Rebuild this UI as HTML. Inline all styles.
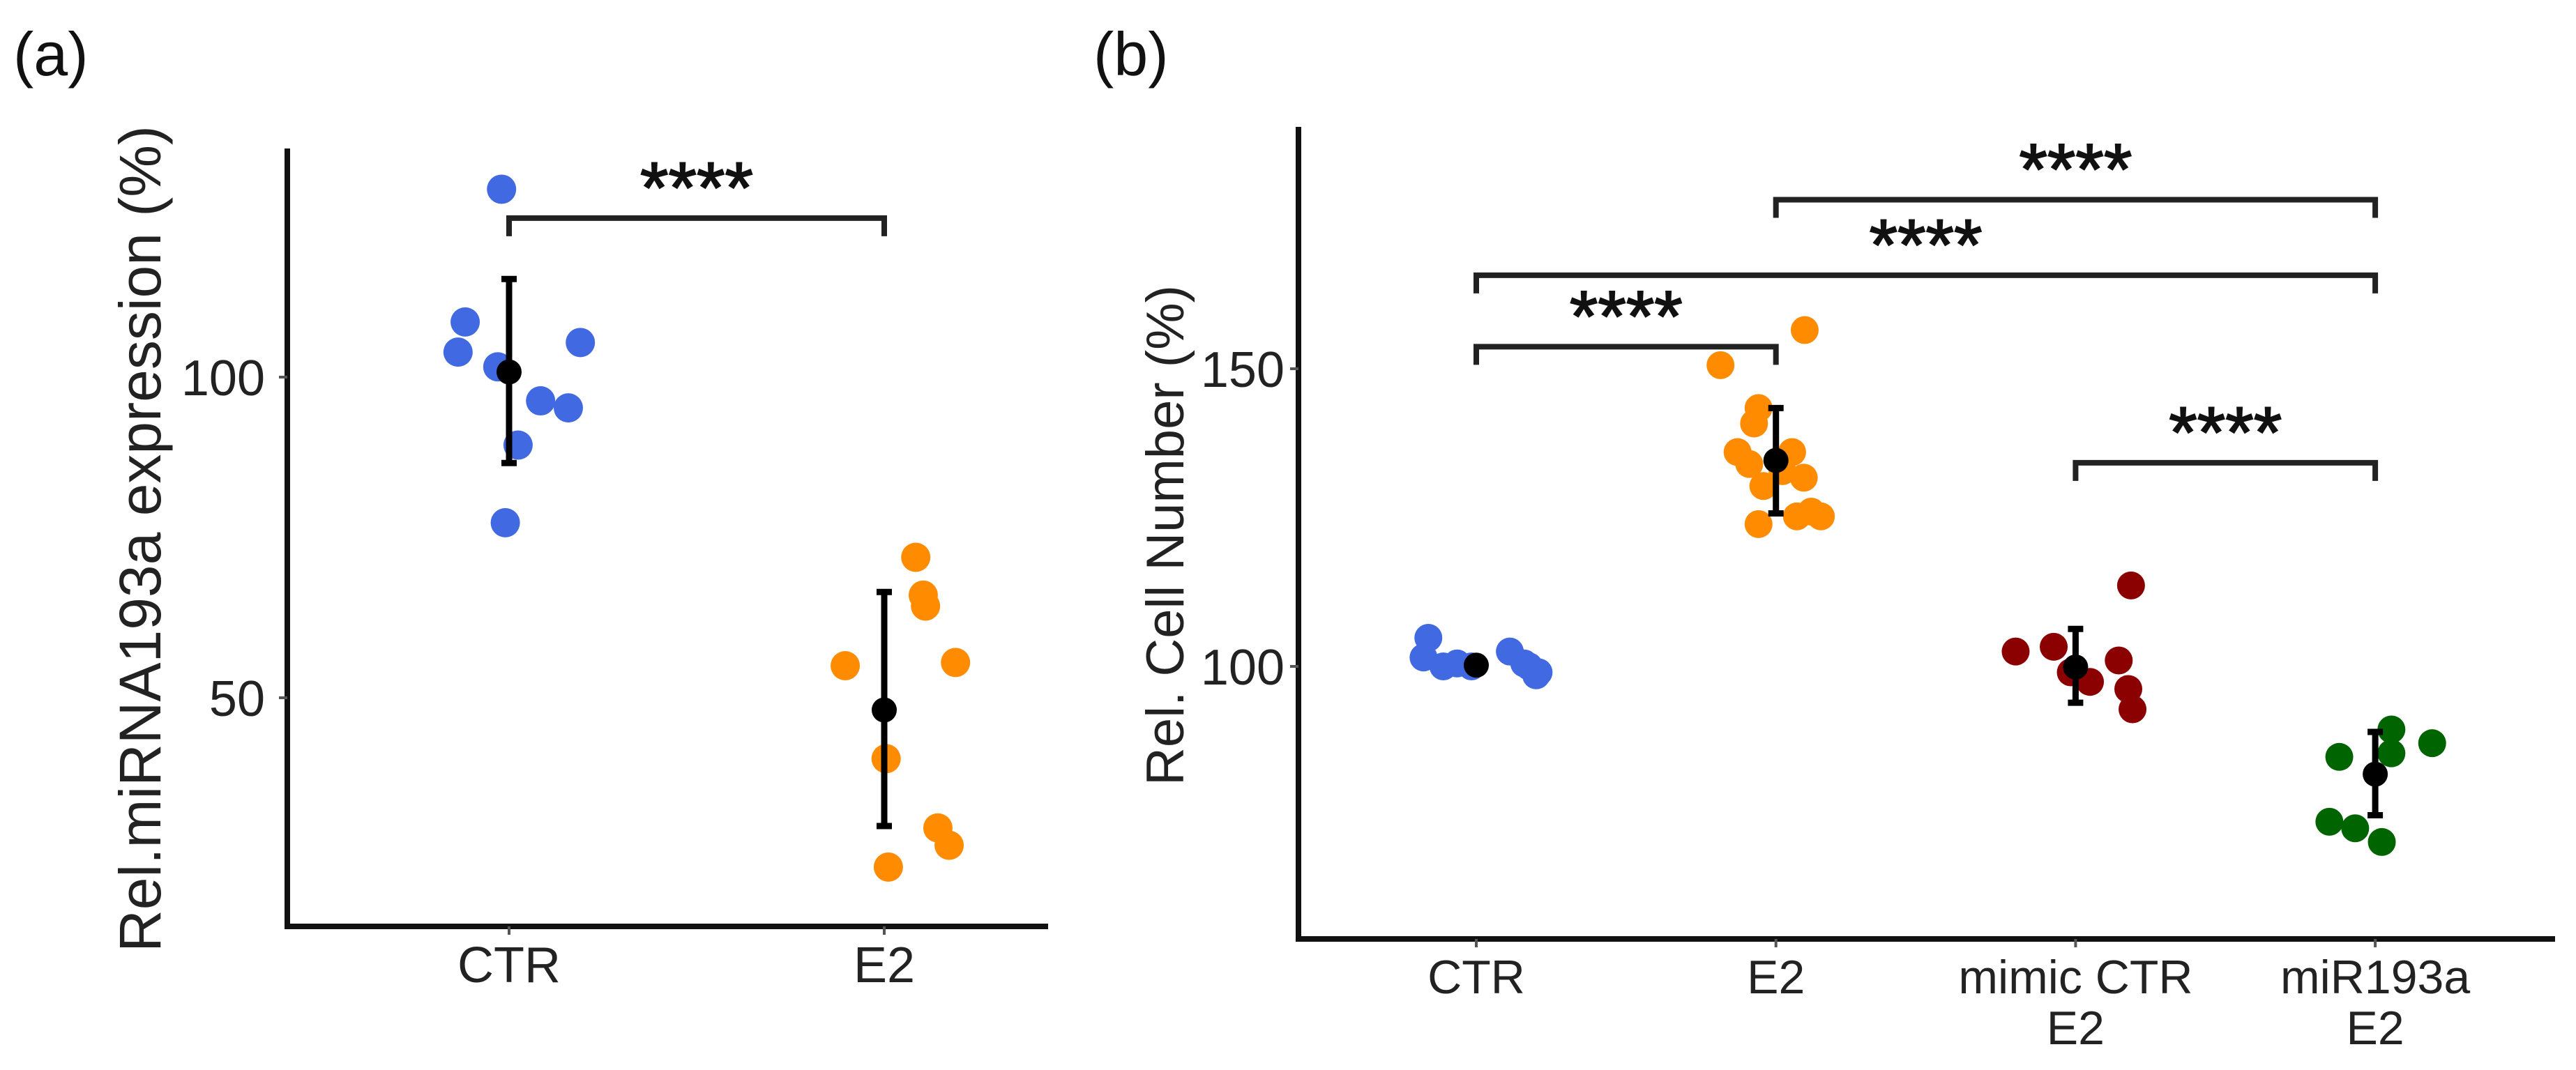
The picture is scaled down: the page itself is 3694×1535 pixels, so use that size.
<!DOCTYPE html>
<html><head><meta charset="utf-8"><style>
html,body{margin:0;padding:0;background:#fff;}
svg{display:block;font-family:"Liberation Sans",Arial,sans-serif;}
</style></head><body>
<svg id="chart" width="3694" height="1535" viewBox="0 0 3694 1535" xmlns="http://www.w3.org/2000/svg">
<text x="19" y="108" font-size="88" fill="#111">(a)</text>
<text x="1568" y="108" font-size="88" fill="#111">(b)</text>
<g id="pa"></g>
<g id="pb"></g>
</svg>
<script>
// ---------- Panel A data ----------
const aCategories = ["CTR", "E2"];
const aTickValues = [50, 100];
const aCtrValues = [129.3, 108.6, 103.9, 105.4, 101.6, 96.3, 95.2, 89.4, 77.3];
const aCtrJitter = [-0.02, -0.117, -0.136, 0.19, -0.03, 0.084, 0.158, 0.024, -0.01];
const aE2Values = [71.9, 66.0, 64.3, 55.0, 55.5, 40.5, 29.7, 27.0, 23.6];
const aE2Jitter = [0.084, 0.104, 0.11, -0.104, 0.19, 0.005, 0.143, 0.173, 0.011];
const aMeans = [100.8, 48.1];
const aErrLow = [86.6, 30.0];
const aErrHigh = [115.3, 66.5];
const aBracketFrom = [0];
const aBracketTo = [1];
const aBracketY = [124.8];
const aBracketLabels = ["****"];

// ---------- Panel B data ----------
const bCategories = [["CTR"], ["E2"], ["mimic CTR", "E2"], ["miR193a", "E2"]];
const bTickValues = [100, 150];
const bCtrValues = [104.8, 101.5, 100.0, 100.5, 100.0, 102.5, 100.5, 98.5, 99.0, 100.0];
const bCtrJitter = [-0.16, -0.176, -0.11, -0.064, -0.016, 0.112, 0.16, 0.2, 0.208, 0.176];
const bE2Values = [156.5, 150.6, 143.4, 140.8, 136.0, 136.0, 132.8, 131.7, 134.0, 130.3, 123.9, 125.2, 125.2, 126.0];
const bE2Jitter = [0.096, -0.185, -0.058, -0.073, -0.128, 0.054, 0.022, 0.093, -0.089, -0.042, -0.058, 0.07, 0.15, 0.118];
const bMimicValues = [113.6, 102.5, 103.3, 101.0, 99.0, 97.4, 96.2, 92.8];
const bMimicJitter = [0.185, -0.2, -0.073, 0.144, -0.016, 0.048, 0.176, 0.19];
const bMirValues = [89.4, 87.1, 84.8, 85.4, 73.9, 72.8, 70.5];
const bMirJitter = [0.054, 0.19, -0.12, 0.054, -0.153, -0.067, 0.022];
const bMeans = [100.2, 134.6, 99.9, 81.9];
const bErrLow = [99.5, 125.7, 93.9, 75.0];
const bErrHigh = [100.9, 143.4, 106.3, 89.0];
const bBracketFrom = [1, 0, 0, 2];
const bBracketTo = [3, 3, 1, 3];
const bBracketY = [178.4, 165.7, 153.7, 134.2];
const bBracketLabels = ["****", "****", "****", "****"];

const NS = "http://www.w3.org/2000/svg";
function mk(parent, tag, attrs, text) {
  const el = document.createElementNS(NS, tag);
  for (const k in attrs) el.setAttribute(k, attrs[k]);
  if (text !== undefined) el.textContent = text;
  parent.appendChild(el);
  return el;
}

function drawPanel(g, cfg) {
  const yS = v => cfg.y0px + (v - cfg.y0v) * (cfg.y1px - cfg.y0px) / (cfg.y1v - cfg.y0v);
  const xS = i => cfg.x0 + i * cfg.step;
  let el = mk(g, "line", {x1: cfg.axisX, y1: cfg.top, x2: cfg.axisX, y2: cfg.bottom + 4, stroke: "#111", "stroke-width": 8});
  
  
  el = mk(g, "line", {x1: cfg.axisX - 4, y1: cfg.bottom, x2: cfg.right, y2: cfg.bottom, stroke: "#111", "stroke-width": 8});
  
  
  cfg.ticks.forEach(t => {
    const y = yS(t);
    let tk = mk(g, "line", {x1: cfg.axisX - 12, y1: y, x2: cfg.axisX, y2: y, stroke: "#555", "stroke-width": 4});
    
    
    let lb = mk(g, "text", {x: cfg.axisX - cfg.tickGap, y: y + 26, "font-size": 72, "text-anchor": "end", fill: "#222"}, String(t));
    
    
  });
  cfg.cats.forEach((c, i) => {
    const x = xS(i);
    let tk = mk(g, "line", {x1: x, y1: cfg.bottom, x2: x, y2: cfg.bottom + 12, stroke: "#555", "stroke-width": 4});
    
    
    const lines = Array.isArray(c) ? c : [c];
    lines.forEach((ln, j) => {
      let lb = mk(g, "text", {x: x, y: cfg.labelY + j * 73, "font-size": cfg.labelSize, "text-anchor": "middle", fill: "#222"}, ln);
      
      
    });
  });
  let tt = mk(g, "text", {x: 0, y: 0, "font-size": cfg.titleSize, "text-anchor": "middle", fill: "#222",
    transform: `translate(${cfg.titleX},${cfg.titleY}) rotate(-90)`}, cfg.title);
  
  
  cfg.series.forEach((s, i) => {
    s.vals.forEach((v, k) => {
      let c = mk(g, "circle", {cx: xS(i) + s.jit[k] * cfg.step, cy: yS(v), r: cfg.r, fill: s.color});
      
      
    });
  });
  cfg.means.forEach((m, i) => {
    const x = xS(i);
    let eb = mk(g, "path", {d: `M${x},${yS(cfg.lo[i])}V${yS(cfg.hi[i])}M${x-11},${yS(cfg.lo[i])}H${x+11}M${x-11},${yS(cfg.hi[i])}H${x+11}`,
      stroke: "#000", "stroke-width": 9, fill: "none"});
    
    
    let md = mk(g, "circle", {cx: x, cy: yS(m), r: 18, fill: "#000"});
    
    
  });
  cfg.bFrom.forEach((f, i) => {
    const x1 = xS(f), x2 = xS(cfg.bTo[i]), y = yS(cfg.bY[i]);
    let br = mk(g, "path", {d: `M${x1},${y+26}V${y}H${x2}V${y+26}`, stroke: "#222", "stroke-width": 8, fill: "none"});
    
    
    let st = mk(g, "text", {x: (x1 + x2) / 2, y: y - 8, "font-size": 104, "text-anchor": "middle", fill: "#111", stroke: "#111", "stroke-width": 2}, cfg.bLab[i]);
    
    
  });
}

drawPanel(document.getElementById("pa"), {
  y0v: 50, y0px: 1001, y1v: 100, y1px: 541,
  x0: 730, step: 538, axisX: 412, top: 213, bottom: 1329, right: 1503,
  ticks: aTickValues, cats: aCategories, labelY: 1409, labelSize: 72, tickGap: 32,
  title: "Rel.miRNA193a expression (%)", titleSize: 84, titleX: 230, titleY: 773,
  r: 21,
  series: [{vals: aCtrValues, jit: aCtrJitter, color: "#4169E1"}, {vals: aE2Values, jit: aE2Jitter, color: "#FF8C00"}],
  means: aMeans, lo: aErrLow, hi: aErrHigh,
  bFrom: aBracketFrom, bTo: aBracketTo, bY: aBracketY, bLab: aBracketLabels
});
drawPanel(document.getElementById("pb"), {
  y0v: 100, y0px: 956, y1v: 150, y1px: 529,
  x0: 2117, step: 429.7, axisX: 1862, top: 182, bottom: 1347, right: 3664,
  ticks: bTickValues, cats: bCategories, labelY: 1425, labelSize: 68, tickGap: 20,
  title: "Rel. Cell Number (%)", titleSize: 76, titleX: 1697, titleY: 768,
  r: 20,
  series: [{vals: bCtrValues, jit: bCtrJitter, color: "#4169E1"}, {vals: bE2Values, jit: bE2Jitter, color: "#FF8C00"},
           {vals: bMimicValues, jit: bMimicJitter, color: "#8B0000"}, {vals: bMirValues, jit: bMirJitter, color: "#006400"}],
  means: bMeans, lo: bErrLow, hi: bErrHigh,
  bFrom: bBracketFrom, bTo: bBracketTo, bY: bBracketY, bLab: bBracketLabels
});
</script>
</body></html>
